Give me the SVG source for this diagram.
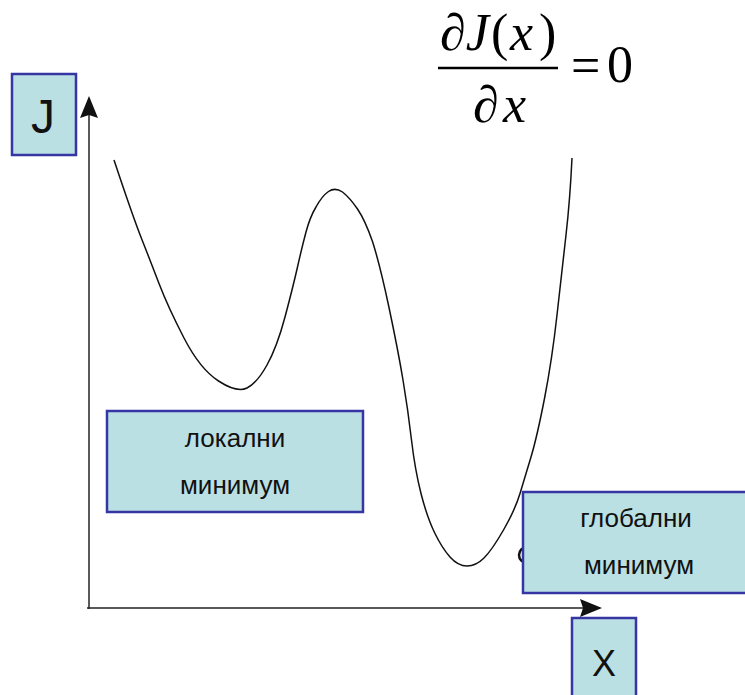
<svg xmlns="http://www.w3.org/2000/svg" width="745" height="695" viewBox="0 0 745 695">
<defs>
<style>
.box{fill:#bbe0e3;stroke:#3535a3;stroke-width:2.5}
.lbl{font-family:"Liberation Sans",Arial,sans-serif;font-size:26px;fill:#111;text-anchor:middle}
.big{font-family:"Liberation Sans",Arial,sans-serif;fill:#111;text-anchor:middle}
.axis{stroke:#222;stroke-width:1.5;fill:none}
.m{font-family:"Liberation Serif","Times New Roman",serif;font-size:52px;fill:#000}
.i{font-style:italic}
</style>
<marker id="arr" viewBox="0 0 22 18" refX="20" refY="9" markerWidth="22" markerHeight="18" markerUnits="userSpaceOnUse" orient="auto">
<path d="M0,0 L22,9 L0,18 L3,9 Z" fill="#111"/>
</marker>
</defs>
<rect width="745" height="695" fill="#fff"/>
<g id="connectors">
<line class="axis" x1="89" y1="609" x2="89" y2="98" marker-end="url(#arr)"/>
<line class="axis" x1="87" y1="608" x2="600" y2="608" marker-end="url(#arr)"/>
</g>
<g id="curve">
<path fill="none" stroke="#111" stroke-width="1.5" d="M114,160 Q133,217 141.5,238.5 Q150,260 159,283.5 Q168,307 184,338 Q200,369 218.5,381 Q237,393 247,388 Q257,383 267,365 Q277,347 285,317 Q293,287 297.5,267 Q302,247 306,232 Q310,217 316,207 Q322,196 328.5,191.5 Q335,187 342.5,192 Q350,198 357.5,209 Q365,220 372.5,241.5 Q380,265 389,307.5 Q398,350 403,380 Q408,410 411.5,440 Q415,470 421,493.5 Q427,517 434.5,532.5 Q442,548 450,557 Q458,566 467,566 Q476,566 484,558 Q492,550 503.5,530 Q515,510 520,493.5 Q525,477 531,457 Q537,437 544.5,398.5 Q552,360 557,315 Q562,270 566,235 Q570,200 572,158"/>
<circle cx="527" cy="555" r="8" fill="none" stroke="#111" stroke-width="2.5"/>
</g>
<g id="formula">
<text class="m i" x="440" y="50">∂J</text>
<text class="m" x="491" y="50">(</text>
<text class="m i" x="510" y="50">x</text>
<text class="m" x="539" y="50">)</text>
<line x1="438" y1="68" x2="558" y2="68" stroke="#000" stroke-width="2.5"/>
<text class="m i" x="473" y="122">∂</text>
<text class="m i" x="503" y="122">x</text>
<text class="m" x="571" y="83">=</text>
<text class="m" x="607" y="82">0</text>
</g>
<g id="nodeJ">
<rect class="box" x="12" y="74" width="64" height="81"/>
<text class="big" x="43" y="133" font-size="48">J</text>
</g>
<g id="nodeX">
<rect class="box" x="572" y="618" width="64" height="90"/>
<text class="big" x="604" y="676" font-size="36">X</text>
</g>
<g id="nodeLocal">
<rect class="box" x="107" y="411" width="256" height="101"/>
<text class="lbl" x="235" y="447">локални</text>
<text class="lbl" x="235" y="494">минимум</text>
</g>
<g id="nodeGlobal">
<rect class="box" x="523" y="492" width="240" height="101"/>
<text class="lbl" x="636" y="527">глобални</text>
<text class="lbl" x="639" y="574">минимум</text>
</g>
</svg>
